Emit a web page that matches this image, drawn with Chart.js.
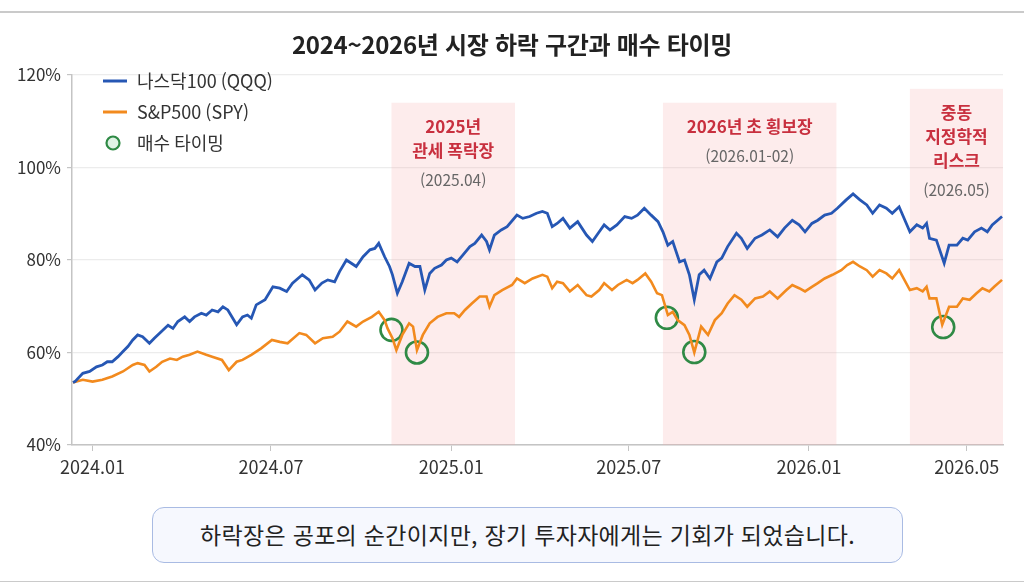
<!DOCTYPE html>
<html lang="ko">
<head>
<meta charset="utf-8">
<title>2024~2026년 시장 하락 구간과 매수 타이밍</title>
<script src="https://cdn.jsdelivr.net/npm/chart.js@4.4.1/dist/chart.umd.min.js"></script>
<style>
  html, body { margin: 0; padding: 0; background: #fff; }
  body { width: 1024px; height: 588px; position: relative; overflow: hidden;
         font-family: 'Noto Sans CJK KR', 'Noto Sans', sans-serif; }
  canvas { position: absolute; left: 0; top: 0; }
  .rule { position: absolute; left: 0; width: 1024px; height: 2px; background: #cacaca; }
  #title { position: absolute; left: 0; top: 26px; width: 1024px; text-align: center;
           font-size: 24px; font-weight: 700; color: #222; letter-spacing: -0.3px; }
  #note { position: absolute; left: 152px; top: 507px; width: 751px; height: 56px;
          box-sizing: border-box; border: 1.5px solid #a9bbe3; border-radius: 12px;
          background: #f6f8fe; text-align: center; line-height: 52px;
          font-size: 23px; letter-spacing: 0.3px; color: #222; }
</style>
</head>
<body>
<div class="rule" style="top:11px"></div>
<canvas id="chart" width="1024" height="588"></canvas>
<div id="title">2024~2026년 시장 하락 구간과 매수 타이밍</div>
<div id="note">하락장은 공포의 순간이지만, 장기 투자자에게는 기회가 되었습니다.</div>
<div class="rule" style="top:581px; height:1px"></div>
<script>
// x values are days since 2024-01-01, y values are % of start value
var qqqDays = [-20,-18,-10,-3,4,10,15,20,26,31,36,41,46,51,58,63,70,77,82,87,94,99,104,111,116,122,128,133,138,147,153,158,162,167,176,184,191,198,204,214,221,227,234,240,247,252,259,264,269,276,283,288,292,298,303,306,311,316,323,329,334,339,344,349,356,361,366,372,378,385,390,397,402,405,410,417,423,433,439,446,453,459,464,469,474,480,487,495,504,510,517,522,528,535,543,550,556,563,570,577,582,587,592,599,604,609,614,619,624,630,637,642,648,657,662,668,676,683,691,699,706,714,721,727,734,740,747,754,760,769,776,783,790,796,803,810,816,823,834,841,847,851,854,861,869,874,882,888,893,900,907,913,918,928];
var qqqPct = [53.5,53.7,55.5,55.9,56.9,57.3,58.0,58.0,59.1,60.2,61.3,62.7,63.8,63.4,62.0,63.1,64.5,65.9,65.2,66.7,67.7,66.7,67.7,68.5,68.1,69.2,68.8,69.9,69.2,66.0,67.7,68.1,67.4,70.3,71.4,74.2,73.9,73.2,75.0,76.8,75.7,73.5,75.0,75.7,75.3,77.5,80.0,79.3,78.6,80.7,82.2,82.5,83.6,80.7,78.6,76.8,72.8,75.3,79.3,78.6,78.6,73.5,77.1,78.2,78.9,80.0,80.4,79.6,81.1,82.9,83.6,85.4,84.0,82.2,85.4,86.5,87.2,89.7,89.0,89.4,90.1,90.5,90.1,87.2,87.9,89.0,86.9,88.3,85.4,84.0,86.1,87.6,86.5,87.6,89.4,89.0,89.7,91.2,89.7,88.3,86.1,83.2,84.0,79.6,80.0,76.8,71.4,76.8,77.8,76.0,79.6,80.4,82.9,85.8,84.7,82.5,84.7,85.4,86.5,85.0,86.9,88.6,87.6,86.1,87.9,88.6,89.7,90.1,91.2,93.0,94.3,93.0,91.9,90.1,91.9,91.2,90.1,91.5,86.1,87.6,86.9,87.9,84.7,84.3,79.3,83.2,83.2,84.7,84.3,86.1,86.9,86.1,87.6,89.4];

var spyDays = [-20,-10,0,10,20,31,41,46,53,58,65,71,79,86,92,99,107,116,122,132,139,147,153,162,172,183,191,199,211,218,227,235,245,252,260,269,276,285,292,298,301,306,310,316,323,327,331,337,344,352,361,369,374,380,387,395,402,405,410,418,428,433,441,449,459,464,469,474,480,487,495,504,509,517,522,530,536,545,551,556,564,570,576,581,587,592,597,604,609,614,621,628,635,642,648,655,662,668,676,684,691,699,708,714,721,727,734,740,747,755,764,770,776,783,790,796,803,810,816,823,834,841,847,851,854,861,867,874,882,888,895,902,908,915,920,928];
var spyPct = [53.5,54.1,53.7,54.1,54.8,55.9,57.3,57.7,57.3,55.9,56.9,58.0,58.7,58.4,59.1,59.5,60.2,59.5,59.1,58.4,56.2,58.0,58.4,59.5,60.9,62.7,62.3,62.0,64.2,63.8,62.0,63.1,63.4,64.5,66.7,65.6,66.7,67.7,68.8,67.0,65.2,63.1,60.5,63.8,66.3,65.6,60.5,63.8,66.3,67.7,68.5,68.5,67.7,69.2,70.6,72.1,72.1,69.9,72.4,73.5,74.6,76.0,75.0,76.0,76.8,76.4,73.9,75.3,75.0,73.2,74.6,72.4,72.1,73.5,75.0,73.5,74.6,75.7,75.0,75.7,77.1,75.3,72.8,72.4,68.1,68.8,67.0,65.9,63.8,60.0,65.6,63.8,67.0,68.5,70.6,72.4,71.4,69.9,71.7,72.1,73.2,71.7,73.5,74.6,73.9,73.2,74.2,75.0,76.0,76.8,77.8,78.9,79.6,78.6,77.8,76.4,77.8,77.1,76.0,77.8,73.5,73.9,73.2,74.2,71.7,71.7,66.0,69.9,69.9,71.7,71.4,72.8,73.9,73.2,74.2,75.7];

var buyDays = [305, 331, 586, 614, 868];
var buyPct = [64.9, 60.0, 67.5, 60.1, 65.5];

var tickDays = [0, 182, 366, 547, 731, 892];
var tickLabels = ['2024.01', '2024.07', '2025.01', '2025.07', '2026.01', '2026.05'];

var zoneStart = [305, 582, 834];
var zoneEnd = [431, 759, 929];
var zoneTop = [114, 114, 117];
var zoneTitles = [['2025년', '관세 폭락장'], ['2026년 초 횡보장'], ['중동', '지정학적', '리스크']];
var zoneDates = ['(2025.04)', '(2026.01-02)', '(2026.05)'];

var seriesNames = ['나스닥100 (QQQ)', 'S&P500 (SPY)', '매수 타이밍'];

var FONT = "'Noto Sans CJK KR', 'Noto Sans', sans-serif";
var BLUE = '#2657b4';
var ORANGE = '#f28a1e';
var GREEN = '#2f8a45';

function pts(xs, ys) {
    return xs.map(function (x, i) { return { x: x, y: ys[i] }; });
}

// shaded market-drop periods with their captions
var zonePlugin = {
    id: 'zones',
    beforeDatasetsDraw: function (chart) {
        var ctx = chart.ctx, xs = chart.scales.x, ys = chart.scales.y;
        ctx.save();
        for (var i = 0; i < zoneStart.length; i++) {
            var x1 = xs.getPixelForValue(zoneStart[i]);
            var x2 = xs.getPixelForValue(zoneEnd[i]);
            var top = ys.getPixelForValue(zoneTop[i]);
            ctx.fillStyle = 'rgba(245, 170, 170, 0.22)';
            ctx.fillRect(x1, top, x2 - x1, chart.chartArea.bottom - top);

            var cx = (x1 + x2) / 2, y = top + 24;
            ctx.textAlign = 'center';
            ctx.textBaseline = 'middle';
            ctx.font = 'bold 17px ' + FONT;
            ctx.fillStyle = '#c8303f';
            zoneTitles[i].forEach(function (t) {
                ctx.fillText(t, cx, y);
                y += 24;
            });
            ctx.font = '15.5px ' + FONT;
            ctx.fillStyle = '#666';
            ctx.fillText(zoneDates[i], cx, y + 5);
        }
        ctx.restore();
    }
};

var legendPlugin = {
    id: 'legendBox',
    afterDraw: function (chart) {
        var ctx = chart.ctx;
        ctx.save();
        ctx.font = '18px ' + FONT;
        ctx.textBaseline = 'middle';
        ctx.textAlign = 'left';
        var rows = [81, 112, 143];

        ctx.lineWidth = 3;
        ctx.strokeStyle = BLUE;
        ctx.beginPath(); ctx.moveTo(103, rows[0]); ctx.lineTo(127, rows[0]); ctx.stroke();
        ctx.strokeStyle = ORANGE;
        ctx.beginPath(); ctx.moveTo(103, rows[1]); ctx.lineTo(127, rows[1]); ctx.stroke();

        ctx.lineWidth = 2.2;
        ctx.strokeStyle = GREEN;
        ctx.fillStyle = '#dff3e5';
        ctx.beginPath(); ctx.arc(113, rows[2], 6.5, 0, Math.PI * 2); ctx.fill(); ctx.stroke();

        ctx.fillStyle = '#333';
        seriesNames.forEach(function (n, i) { ctx.fillText(n, 137, rows[i]); });
        ctx.restore();
    }
};

var ctx = document.getElementById('chart').getContext('2d');
var chart = new Chart(ctx, {
type: 'line',
data: {
    datasets: [{
        label: seriesNames[0],
        data: pts(qqqDays, qqqPct),
        borderColor: BLUE,
        borderWidth: 2.8,
        pointRadius: 0,
        tension: 0,
        fill: false
    },
    {
        label: seriesNames[1],
        data: pts(spyDays, spyPct),
        borderColor: ORANGE,
        borderWidth: 2.6,
        pointRadius: 0,
        tension: 0,
        fill: false
    },
    {
        label: seriesNames[2],
        data: pts(buyDays, buyPct),
        showLine: false,
        pointRadius: 11,
        pointBorderWidth: 2.6,
        pointBorderColor: GREEN,
        pointBackgroundColor: 'rgba(0,0,0,0)'
    }]
},
options: {
    responsive: false,
    animation: false,
    layout: { padding: { left: 0, top: 75, right: 21, bottom: 103 } },
    scales: {
        x: {
            type: 'linear',
            min: -21,
            max: 929,
            afterFit: function (s) { s.height = 40; },
            afterBuildTicks: function (s) {
                s.ticks = tickDays.map(function (d) { return { value: d }; });
            },
            ticks: {
                autoSkip: false,
                maxRotation: 0,
                padding: 5,
                color: '#333',
                font: { family: FONT, size: 18 },
                callback: function (v) { return tickLabels[tickDays.indexOf(v)]; }
            },
            grid: { drawOnChartArea: false, tickLength: 6, tickColor: '#c4c4c4' },
            border: { color: '#c4c4c4', width: 1.5 }
        },
        y: {
            min: 40,
            max: 120,
            afterFit: function (s) { s.width = 72; },
            ticks: {
                stepSize: 20,
                padding: 6,
                color: '#333',
                font: { family: FONT, size: 17 },
                callback: function (v) { return v + '%'; }
            },
            grid: { color: '#ececec', tickLength: 5, tickColor: '#c4c4c4', lineWidth: 1.2 },
            border: { color: '#c4c4c4', width: 1.5 }
        }
    },
    plugins: {
        legend: { display: false },
        tooltip: { enabled: false }
    }
},
plugins: [zonePlugin, legendPlugin]
});
</script>
</body>
</html>
